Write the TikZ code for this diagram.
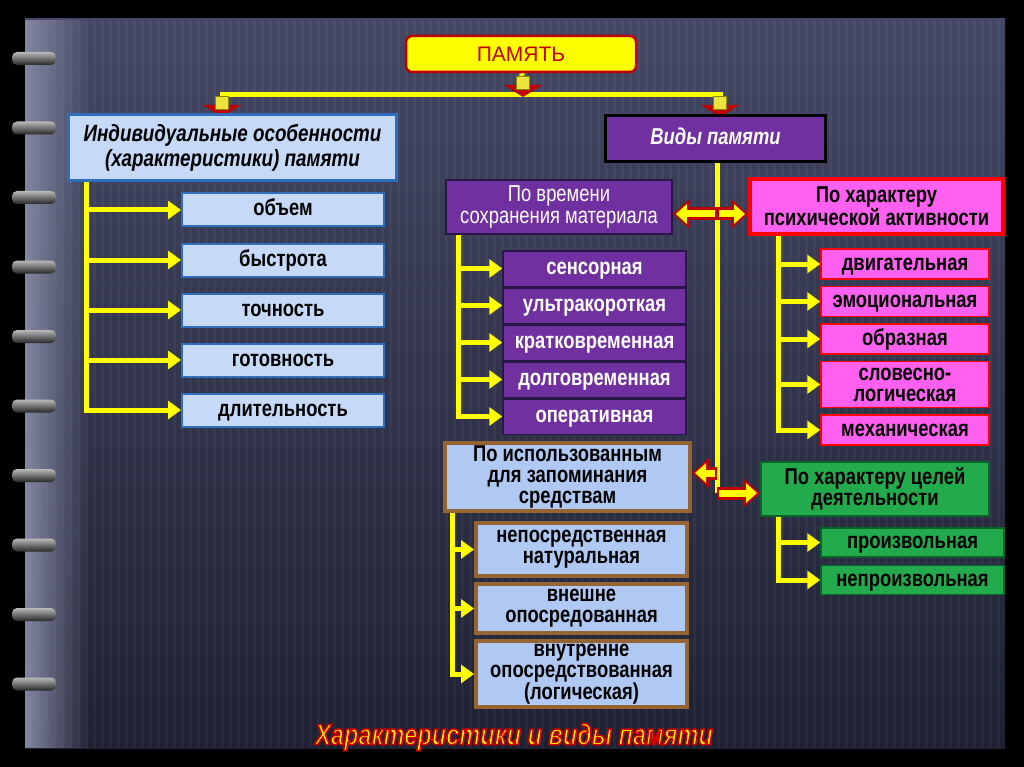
\documentclass[tikz,border=0pt]{standalone}
\usepackage{fontspec}
\setmainfont{Liberation Sans}
\newfontfamily\narrowfont[FakeStretch=0.8]{Liberation Sans}
\usepackage{tikz}
\usetikzlibrary{positioning,calc,arrows.meta,fadings}
\definecolor{panelTop}{RGB}{68,72,100}
\definecolor{panelBottom}{RGB}{30,32,50}
\definecolor{spine}{RGB}{130,134,160}
\definecolor{markyellow}{RGB}{255,255,0}
\definecolor{darkred}{RGB}{192,0,0}
\definecolor{lightblue}{RGB}{198,217,247}
\definecolor{toolblue}{RGB}{176,201,243}
\definecolor{frameblue}{RGB}{46,110,186}
\definecolor{memviolet}{RGB}{112,48,160}
\definecolor{violetline}{RGB}{40,22,70}
\definecolor{mempink}{RGB}{255,96,240}
\definecolor{memgreen}{RGB}{34,170,76}
\definecolor{darkgreen}{RGB}{10,100,40}
\definecolor{membrown}{RGB}{150,100,50}
\definecolor{jointyellow}{RGB}{236,228,60}
\pgfdeclarelayer{background}
\pgfsetlayers{background,main}
\tikzset{
  yline/.style={draw=markyellow, line width=5pt},
  yarrow/.style={yline, -{Triangle[length=13pt,width=18pt]}},
  blockout/.style={draw=darkred, line width=13pt, -{Triangle[length=17pt,width=29pt]}},
  blockin/.style={draw=markyellow, line width=7pt, -{Triangle[length=11pt,width=19pt]}, shorten >=3pt, shorten <=2pt},
  joint/.style={rectangle, fill=jointyellow, draw=olive, line width=1pt, minimum size=13pt, inner sep=0pt},
  boxtext/.style={rectangle, align=center, inner sep=1pt, font=\narrowfont\bfseries\fontsize{23}{21}\selectfont},
  oneline/.style={text height=12pt, text depth=0pt},
  charbox/.style={boxtext, oneline, fill=lightblue, draw=frameblue, line width=2pt, minimum width=202pt, minimum height=33pt},
  violetbox/.style={boxtext, oneline, fill=memviolet, draw=violetline, line width=1.5pt, text=white, minimum width=183pt, minimum height=35.5pt},
  pinkbox/.style={boxtext, fill=mempink, draw=red, line width=1.5pt, minimum width=168pt, minimum height=30pt},
  pinkitem/.style={pinkbox, oneline},
  toolbox/.style={boxtext, fill=toolblue, draw=membrown, line width=4pt, minimum width=211pt},
  greenbox/.style={boxtext, fill=memgreen, draw=darkgreen, line width=1.5pt, minimum width=183pt, minimum height=29pt}
}
\begin{document}
\begin{tikzpicture}[x=1pt,y=1pt]
\useasboundingbox (0,0) rectangle (1024,-767);
\begin{pgfonlayer}{background}
  % notebook page
  \fill[black] (0,0) rectangle (1024,-767);
  \fill[top color=panelTop, bottom color=panelBottom] (25,-19) rectangle (1005,-748);
  \foreach \x in {30,38,...,1000}
    \draw[white, opacity=0.04, line width=3pt] (\x,-19) -- (\x,-748);
  \fill[spine, path fading=east] (25,-19) rectangle (90,-748);
  \foreach \k in {0,...,9}
    \shade[top color=gray!55, bottom color=black!85, rounded corners=5pt]
      (12,{-52-69.5*\k}) rectangle (56,{-65-69.5*\k});
\end{pgfonlayer}

% top
\node[rectangle, rounded corners=6pt, fill=markyellow, draw=darkred, line width=2.5pt,
  minimum width=230pt, minimum height=36pt, text=darkred, font=\fontsize{21}{21}\selectfont]
  (memory) at (521,-54) {ПАМЯТЬ};
\node[joint] (jtop) at (523,-83) {};
\node[joint] (jleft) at (222,-103) {};
\node[joint] (jright) at (720,-103) {};
\coordinate (bar) at (0,-95);

% characteristics
\node[boxtext, fill=lightblue, draw=frameblue, line width=3pt, minimum width=328pt, minimum height=66pt,
  font=\narrowfont\bfseries\itshape\fontsize{23.5}{25}\selectfont]
  (indiv) at (232.5,-147.5) {Индивидуальные особенности\\(характеристики) памяти};
\node[charbox] (volume) at (283,-210) {объем};
\node[charbox, below=15pt of volume] (speed) {быстрота};
\node[charbox, below=15pt of speed] (accuracy) {точность};
\node[charbox, below=15pt of accuracy] (readiness) {готовность};
\node[charbox, below=15pt of readiness] (duration) {длительность};
\coordinate (lcol) at (86,0);

% kinds
\node[boxtext, oneline, fill=memviolet, draw=black, line width=3pt, text=white, minimum width=220pt,
  minimum height=46pt, font=\narrowfont\bfseries\itshape\fontsize{23}{21}\selectfont]
  (kinds) at (715.5,-138.5) {Виды памяти};
\coordinate (vbend) at (717,-493);
\coordinate (vtime) at (717,-214);
\coordinate (vtools) at (717,-473);

% by time
\node[boxtext, fill=memviolet, draw=violetline, line width=1.5pt, text=white, minimum width=226pt,
  minimum height=54pt, font=\narrowfont\fontsize{23}{22}\selectfont]
  (time) at (559,-207) {По времени\\сохранения материала};
\node[violetbox] (sensory) at (594.5,-268.5) {сенсорная};
\node[violetbox, below=0pt of sensory] (ultra) {ультракороткая};
\node[violetbox, below=0pt of ultra] (short) {кратковременная};
\node[violetbox, below=0pt of short] (long) {долговременная};
\node[violetbox, below=0pt of long] (working) {оперативная};
\coordinate (tcol) at (458,0);

% by activity
\node[pinkbox, line width=4pt, minimum width=253pt, minimum height=55pt]
  (psych) at (876.5,-206.5) {По характеру\\психической активности};
\node[pinkitem] (motor) at (905,-264) {двигательная};
\node[pinkitem, below=6pt of motor] (emotional) {эмоциональная};
\node[pinkitem, below=6pt of emotional] (imagery) {образная};
\node[pinkbox, below=6pt of imagery, minimum height=46pt] (verbal) {словесно-\\логическая};
\node[pinkitem, below=6pt of verbal] (mechanical) {механическая};
\coordinate (pcol) at (778,0);

% by means
\node[toolbox, minimum width=245pt, minimum height=68pt]
  (tools) at (567.5,-477) {По использованным\\для запоминания\\средствам};
\node[toolbox, minimum height=53pt] (direct) at (581.5,-549.5) {непосредственная\\натуральная};
\node[toolbox, below=4pt of direct, minimum height=49pt] (external) {внешне\\опосредованная};
\node[toolbox, below=4pt of external, minimum height=66pt] (internal) {внутренне\\опосредствованная\\(логическая)};
\coordinate (ucol) at (452,0);

% by goal
\node[greenbox, line width=2pt, minimum width=228pt, minimum height=54pt]
  (goal) at (875,-489) {По характеру целей\\деятельности};
\node[greenbox, oneline] (voluntary) at (912.5,-542.5) {произвольная};
\node[greenbox, oneline, below=7pt of voluntary] (involuntary) {непроизвольная};
\coordinate (gcol) at (778,0);

% caption
\node[text=markyellow, font=\narrowfont\bfseries\itshape\fontsize{29.5}{30}\selectfont]
  (caption) at (514,-737) {\special{pdf:literal direct 2 Tr 1.6 w 0.8 0 0 RG}Характеристики и виды памяти\special{pdf:literal direct 0 Tr}};

\begin{pgfonlayer}{background}
  % connectors
  \draw[yline] (memory.south) -- (jtop.north);
  \draw[yline] (jtop.south) -- (jtop.south |- bar);
  \draw[yline] (jleft.north) -- (jleft.north |- bar) -- (jright.north |- bar) -- (jright.north);
  \foreach \j in {jtop,jleft,jright}
    \fill[darkred] ($(\j.south west)+(-12,5)$) -- ($(\j.south east)+(12,5)$) -- ($(\j.south)+(0,-7)$) -- cycle;
  \foreach \n in {volume,speed,accuracy,readiness}
    \draw[yarrow] (\n.west -| lcol) -- (\n.west);
  \draw[yarrow] (indiv.south -| lcol) |- (duration.west);
  \foreach \n in {sensory,ultra,short,long}
    \draw[yarrow] (\n.west -| tcol) -- (\n.west);
  \draw[yarrow] (time.south -| tcol) |- (working.west);
  \foreach \n in {motor,emotional,imagery,verbal}
    \draw[yarrow] (\n.west -| pcol) -- (\n.west);
  \draw[yarrow] (psych.south -| pcol) |- (mechanical.west);
  \foreach \n in {direct,external}
    \draw[yarrow] (\n.west -| ucol) -- (\n.west);
  \draw[yarrow] (tools.south -| ucol) |- (internal.west);
  \draw[yarrow] (voluntary.west -| gcol) -- (voluntary.west);
  \draw[yarrow] (goal.south -| gcol) |- (involuntary.west);
  \draw[yline] (kinds.south -| vbend) -- (vbend);
  % block arrows
  \draw[blockout] (vtime) -- (time.east |- vtime);
  \draw[blockout] (vtime) -- (psych.west |- vtime);
  \draw[blockout] (vtools) -- (tools.east |- vtools);
  \draw[blockout] (vbend) -- (goal.west |- vbend);
  \draw[blockin] (vtime) -- (time.east |- vtime);
  \draw[blockin] (vtime) -- (psych.west |- vtime);
  \draw[blockin] (vtools) -- (tools.east |- vtools);
  \draw[blockin] (vbend) -- (goal.west |- vbend);
\end{pgfonlayer}
\end{tikzpicture}
\end{document}
